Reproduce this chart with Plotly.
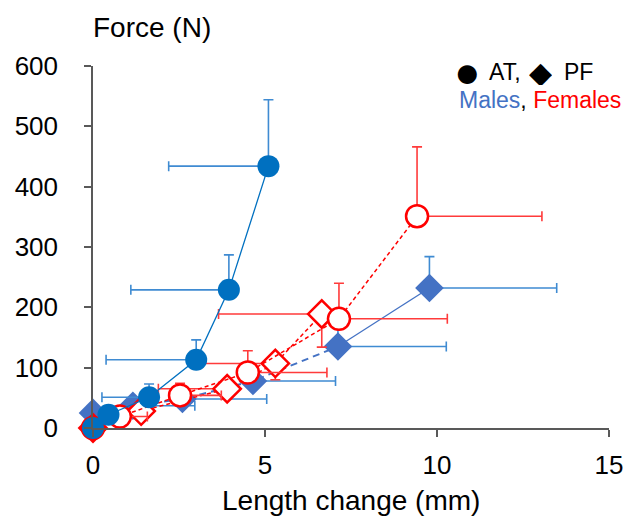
import plotly.graph_objects as go

# ---- data ----
# Males, AT (filled circles)
m_at_x = [0.0, 0.45, 1.63, 3.0, 3.95, 5.1]
m_at_y = [0, 22, 51, 113, 229, 434]
m_at_xminus = [0, 0, 1.37, 2.62, 2.85, 2.9]
m_at_yplus = [0, 0, 22, 33, 58, 110]

# Males, PF (filled diamonds)
m_pf_x = [0.0, 1.16, 2.6, 4.65, 7.12, 9.78]
m_pf_y = [25, 37, 48, 78, 135, 232]
m_pf_xplus = [0, 1.8, 2.45, 2.4, 3.15, 3.7]
m_pf_yplus = [0, 0, 0, 0, 30, 52]

# Females, AT (open circles)
f_at_x = [0.0, 0.78, 2.53, 4.5, 7.15, 9.42]
f_at_y = [0, 19, 54, 92, 181, 351]
f_at_xplus = [0, 0.8, 1.2, 2.3, 3.15, 3.63]
f_at_yplus = [0, 0, 20, 36, 59, 115]

# Females, PF (open diamonds)
f_pf_x = [0.0, 1.4, 3.9, 5.3, 6.65]
f_pf_y = [0, 28, 65, 107, 189]
f_pf_xminus = [0, 0.55, 2.0, 2.2, 3.0]
f_pf_yminus = [0, 10, 17, 27, 55]

x_ticks = [0, 5, 10, 15]
y_ticks = [0, 100, 200, 300, 400, 500, 600]

C_M_AT = "#0070C0"
C_M_PF = "#4472C4"
C_M_BAR = "#3F8BD2"
C_RED = "#FF0000"
C_RED_BAR = "#FF3B3B"
FONT = "Arial, Liberation Sans, sans-serif"

fig = go.Figure()

# Male PF lines: dashed then solid last segment
fig.add_trace(go.Scatter(x=m_pf_x[:5], y=m_pf_y[:5], mode="lines",
                         line=dict(color=C_M_PF, width=2, dash="7px,5px"),
                         hoverinfo="skip", showlegend=False, cliponaxis=False))
fig.add_trace(go.Scatter(x=m_pf_x[4:], y=m_pf_y[4:], mode="lines",
                         line=dict(color=C_M_PF, width=1.3),
                         hoverinfo="skip", showlegend=False, cliponaxis=False))
fig.add_trace(go.Scatter(
    x=m_pf_x, y=m_pf_y, mode="markers",
    marker=dict(symbol="diamond", size=22, color=C_M_PF, line=dict(width=0)),
    error_x=dict(type="data", symmetric=False, array=m_pf_xplus,
                 arrayminus=[0] * len(m_pf_x), color=C_M_BAR, thickness=1.6, width=5),
    error_y=dict(type="data", symmetric=False, array=m_pf_yplus,
                 arrayminus=[0] * len(m_pf_x), color=C_M_BAR, thickness=1.6, width=5),
    showlegend=False, cliponaxis=False))

# Female PF
fig.add_trace(go.Scatter(
    x=f_pf_x, y=f_pf_y, mode="lines+markers",
    line=dict(color=C_RED, width=1.5, dash="4px,3px"),
    marker=dict(symbol="diamond", size=21, color="white", line=dict(width=2.5, color=C_RED)),
    error_x=dict(type="data", symmetric=False, array=[0] * len(f_pf_x),
                 arrayminus=f_pf_xminus, color=C_RED_BAR, thickness=1.6, width=5),
    error_y=dict(type="data", symmetric=False, array=[0] * len(f_pf_x),
                 arrayminus=f_pf_yminus, color=C_RED_BAR, thickness=1.6, width=5),
    showlegend=False, cliponaxis=False))

# Female AT
fig.add_trace(go.Scatter(
    x=f_at_x, y=f_at_y, mode="lines+markers",
    line=dict(color=C_RED, width=1.5, dash="4px,3px"),
    marker=dict(symbol="circle", size=22, color="white", line=dict(width=2.5, color=C_RED)),
    error_x=dict(type="data", symmetric=False, array=f_at_xplus,
                 arrayminus=[0] * len(f_at_x), color=C_RED_BAR, thickness=1.6, width=5),
    error_y=dict(type="data", symmetric=False, array=f_at_yplus,
                 arrayminus=[0] * len(f_at_x), color=C_RED_BAR, thickness=1.6, width=5),
    showlegend=False, cliponaxis=False))

# Male AT
fig.add_trace(go.Scatter(
    x=m_at_x, y=m_at_y, mode="lines+markers",
    line=dict(color=C_M_AT, width=1.3),
    marker=dict(symbol="circle", size=22, color=C_M_AT, line=dict(width=0)),
    error_x=dict(type="data", symmetric=False, array=[0] * len(m_at_x),
                 arrayminus=m_at_xminus, color=C_M_BAR, thickness=1.6, width=5),
    error_y=dict(type="data", symmetric=False, array=m_at_yplus,
                 arrayminus=[0] * len(m_at_x), color=C_M_BAR, thickness=1.6, width=5),
    showlegend=False, cliponaxis=False))

axis_common = dict(showgrid=False, zeroline=False, showline=True, linecolor="#595959",
                   linewidth=1.5, ticks="outside", ticklen=7, tickcolor="#595959",
                   tickwidth=1.5, automargin=False,
                   tickfont=dict(family=FONT, size=26, color="black"))


def ann(text, x, y, size, xanchor="left", **kw):
    return dict(text=text, xref="paper", yref="paper", x=x, y=y,
                xanchor=xanchor, yanchor="middle", showarrow=False,
                font=dict(family=FONT, size=size, color="black"), **kw)


fig.update_layout(
    width=626, height=519,
    margin=dict(l=93, r=17, t=66, b=91),
    plot_bgcolor="white", paper_bgcolor="white",
    xaxis=dict(range=[0, 15], tickvals=x_ticks, ticklabelstandoff=6, **axis_common),
    yaxis=dict(range=[0, 600], tickvals=y_ticks, ticklabelstandoff=21, **axis_common),
    showlegend=False,
    annotations=[
        ann("Force (N)", -0.004, 1.105, 28),
        ann("Length change (mm)", 0.5, -0.199, 28, "center"),
        ann("●", 0.7267, 0.986, 44, "center", height=26),
        ann("AT,", 0.7636, 0.983, 23),
        ann("◆", 0.8682, 0.983, 30, "center", height=26),
        ann("PF", 0.9089, 0.983, 23),
        ann("<span style='color:#4472C4'>Males</span>, <span style='color:#FF0000'>Females</span>",
            0.7054, 0.906, 23),
    ],
)

fig.write_html("out.html", config={"displayModeBar": False},
               post_script="document.body.style.margin='0';")
